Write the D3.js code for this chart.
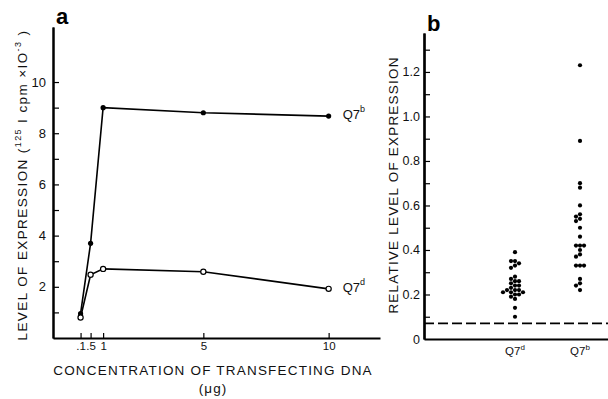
<!DOCTYPE html>
<html>
<head>
<meta charset="utf-8">
<script src="https://cdn.jsdelivr.net/npm/d3@7"></script>
<style>
html,body{margin:0;padding:0;background:#fff;}
svg{display:block;font-family:"Liberation Sans","DejaVu Sans",Arial,sans-serif;}
</style>
</head>
<body>
<svg id="chart" width="608" height="399"></svg>
<script>
// ---- Panel a data ----
const concentrations = [0.1, 0.5, 1, 5, 10];
const q7bLevels = [0.95, 3.7, 9.0, 8.8, 8.67];
const q7dLevels = [0.8, 2.47, 2.7, 2.59, 1.92];
const xTicksA = [0.1, 0.5, 1, 5, 10];
const xTickLabelsA = [".1", ".5", "1", "5", "10"];
const yMajorA = [2, 4, 6, 8, 10];
const yMinorA = [1, 3, 5, 7, 9];

// ---- Panel b data ----
const categoriesB = ["Q7d", "Q7b"];
const q7dRelative = [0.39, 0.35, 0.35, 0.34, 0.33, 0.32, 0.28, 0.27, 0.26, 0.26, 0.25, 0.24, 0.24, 0.23, 0.22, 0.22, 0.22, 0.21, 0.21, 0.21, 0.20, 0.20, 0.19, 0.18, 0.14, 0.10];
const q7bRelative = [1.23, 0.89, 0.70, 0.68, 0.60, 0.56, 0.55, 0.54, 0.53, 0.50, 0.46, 0.42, 0.42, 0.42, 0.40, 0.38, 0.37, 0.33, 0.33, 0.33, 0.27, 0.25, 0.24, 0.22];
const yMajorB = [0.2, 0.4, 0.6, 0.8, 1.0, 1.2];
const yMinorB = [0.1, 0.3, 0.5, 0.7, 0.9, 1.1, 1.3];
const backgroundLevel = 0.07;

const svg = d3.select("#chart");

// ================= Panel a =================
const xA = d3.scaleLinear().domain([-1, 12.05]).range([53, 380]);
const yA = d3.scaleLinear().domain([0, 12.15]).range([338, 27]);

const gA = svg.append("g");

const yAxisA = gA.append("g").attr("transform", `translate(${xA(-1)},0)`)
  .call(d3.axisLeft(yA).tickValues(yMajorA).tickSizeInner(-6).tickSizeOuter(0).tickPadding(7).tickFormat(d3.format("d")));
const yAxisAminor = gA.append("g").attr("transform", `translate(${xA(-1)},0)`)
  .call(d3.axisLeft(yA).tickValues(yMinorA).tickSizeInner(-6).tickSizeOuter(0).tickFormat(""));
const xAxisA = gA.append("g").attr("transform", `translate(0,${yA(0)})`)
  .call(d3.axisBottom(xA).tickValues(xTicksA).tickSizeInner(-5).tickSizeOuter(0).tickPadding(4)
    .tickFormat((d, i) => xTickLabelsA[i]));

[yAxisA, yAxisAminor, xAxisA].forEach(ax => {
  ax.select(".domain").attr("stroke", "#000").attr("stroke-width", 2);
  ax.selectAll(".tick line").attr("stroke", "#000").attr("stroke-width", 1.2);
  ax.selectAll("text").attr("fill", "#111").attr("font-size", 13);
});
xAxisA.selectAll("text").attr("font-size", 11.5);

const lineA = d3.line().x((d, i) => xA(concentrations[i])).y(d => yA(d));
gA.append("path").datum(q7bLevels).attr("d", lineA)
  .attr("fill", "none").attr("stroke", "#000").attr("stroke-width", 1.6);
gA.append("path").datum(q7dLevels).attr("d", lineA)
  .attr("fill", "none").attr("stroke", "#000").attr("stroke-width", 1.6);

gA.selectAll("circle.q7b").data(q7bLevels).join("circle")
  .attr("class", "q7b")
  .attr("cx", (d, i) => xA(concentrations[i])).attr("cy", d => yA(d))
  .attr("r", 2.6).attr("fill", "#000");
gA.selectAll("circle.q7d").data(q7dLevels).join("circle")
  .attr("class", "q7d")
  .attr("cx", (d, i) => xA(concentrations[i])).attr("cy", d => yA(d))
  .attr("r", 2.6).attr("fill", "#fff").attr("stroke", "#000").attr("stroke-width", 1.2);

function seriesLabel(g, x, y, sup) {
  const t = g.append("text").attr("x", x).attr("y", y).attr("font-size", 13).attr("fill", "#111")
    .attr("dominant-baseline", "middle");
  t.append("tspan").text("Q7");
  t.append("tspan").text(sup).attr("font-size", 9).attr("dy", -6);
}
seriesLabel(gA, xA(10) + 14, yA(q7bLevels[4]), "b");
seriesLabel(gA, xA(10) + 14, yA(q7dLevels[4]), "d");

const yTitleA = gA.append("text")
  .attr("transform", `translate(27,${(yA(0) + 32) / 2}) rotate(-90)`)
  .attr("text-anchor", "middle").attr("font-size", 13.5).attr("letter-spacing", 1.4).attr("fill", "#111");
yTitleA.append("tspan").text("LEVEL OF EXPRESSION (");
yTitleA.append("tspan").text("125").attr("font-size", 9).attr("dy", -6);
yTitleA.append("tspan").text(" I cpm ×IO").attr("dy", 6);
yTitleA.append("tspan").text("-3").attr("font-size", 9).attr("dy", -6);
yTitleA.append("tspan").text(" )").attr("dy", 6);

gA.append("text").attr("x", 213).attr("y", 375).attr("text-anchor", "middle")
  .attr("font-size", 13.5).attr("letter-spacing", 1.2).attr("fill", "#111")
  .text("CONCENTRATION OF TRANSFECTING DNA");
gA.append("text").attr("x", 213).attr("y", 393).attr("text-anchor", "middle")
  .attr("font-size", 13.5).attr("letter-spacing", 1).attr("fill", "#111")
  .text("(μg)");

gA.append("text").attr("x", 56).attr("y", 24).attr("font-size", 22).attr("font-weight", "bold")
  .attr("fill", "#000").text("a");

// ================= Panel b =================
const xB = d3.scalePoint().domain(categoriesB).range([515, 580]);
const yB = d3.scaleLinear().domain([0, 1.375]).range([339, 33]);
const gB = svg.append("g");

const yAxisB = gB.append("g").attr("transform", "translate(424,0)")
  .call(d3.axisLeft(yB).tickValues([0, ...yMajorB]).tickSizeInner(-6).tickSizeOuter(0).tickPadding(4)
    .tickFormat(d => d === 0 ? "0" : d3.format(".1f")(d)));
yAxisB.selectAll(".tick").filter(d => d === 0).select("line").remove();
const yAxisBminor = gB.append("g").attr("transform", "translate(424,0)")
  .call(d3.axisLeft(yB).tickValues(yMinorB).tickSizeInner(-6).tickSizeOuter(0).tickFormat(""));

const xAxisBscale = d3.scaleLinear().domain([0, 1]).range([424, 608]);
const xAxisB = gB.append("g").attr("transform", `translate(0,${yB(0)})`)
  .call(d3.axisBottom(xAxisBscale).tickValues([]).tickSizeOuter(0));

[yAxisB, yAxisBminor, xAxisB].forEach(ax => {
  ax.select(".domain").attr("stroke", "#000").attr("stroke-width", 2.2);
  ax.selectAll(".tick line").attr("stroke", "#000").attr("stroke-width", 1.2);
  ax.selectAll("text").attr("fill", "#111").attr("font-size", 12.5);
});

categoriesB.forEach(c => {
  const t = gB.append("text").attr("x", xB(c)).attr("y", 355).attr("text-anchor", "middle")
    .attr("font-size", 11.5).attr("fill", "#111");
  t.append("tspan").text("Q7");
  t.append("tspan").text(c.slice(2)).attr("font-size", 8).attr("dy", -5);
});

gB.append("line").attr("x1", 424).attr("x2", 608)
  .attr("y1", yB(backgroundLevel)).attr("y2", yB(backgroundLevel))
  .attr("stroke", "#000").attr("stroke-width", 1.6).attr("stroke-dasharray", "10,4");

function swarm(values, cx) {
  const placed = [];
  const offsets = [0, -4, 4, -8, 8, -12, 12];
  return values.map(v => {
    const cy = yB(v);
    let x = cx;
    for (const o of offsets) {
      const px = cx + o;
      if (placed.every(p => Math.hypot(p[0] - px, p[1] - cy) >= 3.8)) { x = px; break; }
    }
    placed.push([x, cy]);
    return [x, cy];
  });
}
[[q7dRelative, "Q7d"], [q7bRelative, "Q7b"]].forEach(([vals, c]) => {
  const pts = swarm(vals, xB(c));
  gB.selectAll(null).data(pts).join("circle")
    .attr("cx", d => d[0]).attr("cy", d => d[1]).attr("r", 2.1).attr("fill", "#000");
});

gB.append("text")
  .attr("transform", `translate(398,185) rotate(-90)`)
  .attr("text-anchor", "middle").attr("font-size", 13.5).attr("letter-spacing", 1.2).attr("fill", "#111")
  .text("RELATIVE LEVEL OF EXPRESSION");

gB.append("text").attr("x", 427).attr("y", 31).attr("font-size", 22).attr("font-weight", "bold")
  .attr("fill", "#000").text("b");
</script>
</body>
</html>
